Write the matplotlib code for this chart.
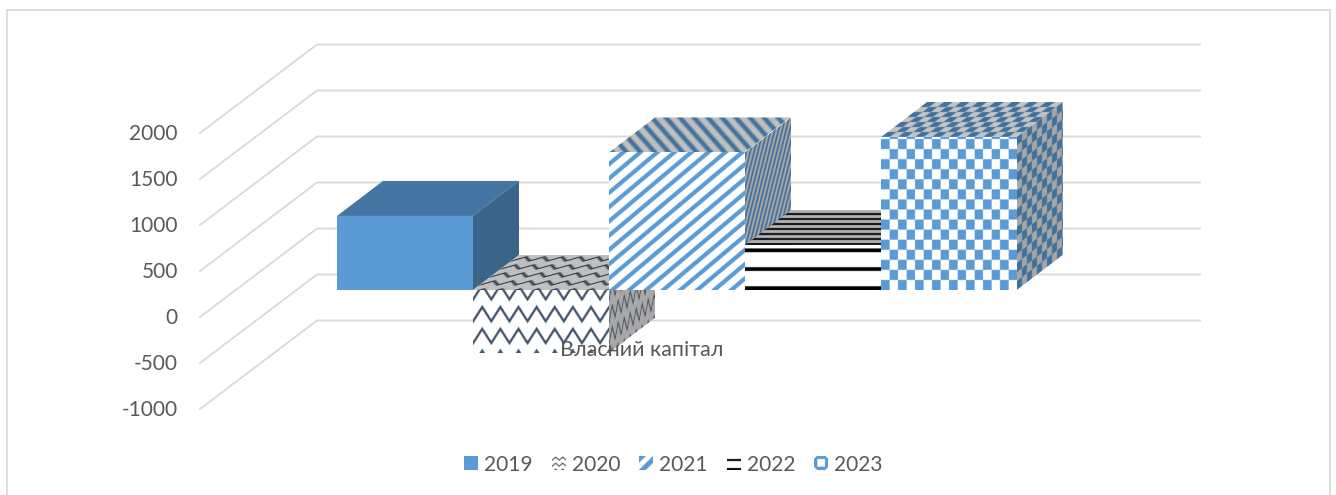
import numpy as np
import matplotlib
matplotlib.use('Agg')
import matplotlib.pyplot as plt
from matplotlib.colors import to_rgb
from matplotlib.lines import Line2D
from matplotlib.patches import Polygon
from matplotlib.transforms import Affine2D

plt.rcParams['font.family'] = ['Lato', 'Open Sans', 'DejaVu Sans']

years = ['2019', '2020', '2021', '2022', '2023']
values = [805, -690, 1495, 490, 1665]
y_ticks = [-1000, -500, 0, 500, 1000, 1500, 2000]
category = 'Власний капітал'

TEXT = '#595959'
GRID = '#d9d9d9'
BLUE = '#5b9bd5'
SLATE = '#44546a'

PX_X = 136.0              # pixels per category slot
PX_Y = 46.0 / 500.0       # pixels per value unit
DX = 46 / PX_X            # bar depth in data units
DY = 35 / PX_Y
TEXT_NUDGE = 1.5 / PX_Y   # lato sits a bit high with va=center

fig = plt.figure(figsize=(13.36, 4.95), dpi=100)
ax = fig.add_axes([0, 0, 1, 1])
ax.axis('off')
xlim = (-337 / PX_X, (1336 - 337) / PX_X)
ylim = ((290 - 495) / PX_Y, 290 / PX_Y)


def stripes(u, v, a, b, period, width):
    return np.mod(u * a + v * b, period) < width


def zigzag(u, v, pu, pv, amp, thick):
    tri = np.abs(np.mod(u, pu) / pu * 2 - 1) * amp
    return np.mod(v + tri, pv) < thick


def checker(u, v, pu, pv):
    return (np.floor(u / pu) + np.floor(v / pv)) % 2 == 0


def hlines(u, v, period, thick):
    return np.mod(v, period) < thick


def ring(u, v, size, gap):
    # blue outline with white middle and notched corners, for the 2023 key
    du = np.abs(u - size / 2)
    dv = np.abs(v - size / 2)
    return (np.maximum(du, dv) >= gap) & (du + dv < size * 0.8)


# pattern per year: (mask function, args, fg, bg) for front, top, side
styles = {
    '2020': [(zigzag, (18, 21.5, 14, 4.2), SLATE, '#ffffff'),
             (zigzag, (18, 8, 4, 1.8), '#333d4c', '#c0c0c0'),
             (zigzag, (6, 21.5, 14, 3.6), '#333d4c', '#a8a8a8')],
    '2021': [(stripes, (1, -1.2, 17, 6.5), BLUE, '#ffffff'),
             (stripes, (1, 2.2, 14, 6), '#41719c', '#c0c0c0'),
             (stripes, (3.2, -1, 15, 7), '#41719c', '#a6a6a6')],
    '2022': [(hlines, (18.5, 3.6), '#000000', '#ffffff'),
             (hlines, (5, 1.8), '#0a0a0a', '#b4b4b4'),
             (hlines, (18.5, 3.6), '#000000', '#a6a6a6')],
    '2023': [(checker, (8.5, 10), BLUE, '#ffffff'),
             (checker, (8.5, 5), '#41719c', '#c4c4c4'),
             (checker, (5, 9), '#41719c', '#a6a6a6')],
}
key_styles = {
    '2020': (zigzag, (7, 6, 3, 1.4), SLATE, '#ffffff'),
    '2021': (stripes, (1, -1, 14, 7), BLUE, '#ffffff'),
    '2022': (hlines, (9, 2.0), '#000000', '#ffffff'),
    '2023': (ring, (14, 4), BLUE, '#ffffff'),
}


def face(origin, uvec, vvec, style, w_px, h_px, z):
    # draw one textured parallelogram, texture is built in pixel units
    fn, args, fg, bg = style
    w_px = max(int(abs(w_px)), 1)
    h_px = max(int(abs(h_px)), 1)
    vv, uu = np.mgrid[0:h_px * 3, 0:w_px * 3] / 3.0
    mask = fn(uu, vv, *args)
    rgba = np.ones(mask.shape + (4,))
    rgba[mask, :3] = to_rgb(fg)
    rgba[~mask, :3] = to_rgb(bg)
    tr = Affine2D.from_values(uvec[0], uvec[1], vvec[0], vvec[1], origin[0], origin[1])
    im = ax.imshow(rgba, extent=(0, 1, 0, 1), origin='lower', aspect='auto',
                   interpolation='bilinear', transform=tr + ax.transData, zorder=z)
    o = np.array(origin)
    u = np.array(uvec)
    w = np.array(vvec)
    im.set_clip_path(Polygon([o, o + u, o + u + w, o + w], closed=True, transform=ax.transData))


def solid(points, color, z):
    ax.add_patch(Polygon(points, closed=True, fc=color, ec='none', zorder=z))


# gridlines: front edge, then along the back wall
FRONT = (317 - 290) / PX_Y * -1
BACK = (290 - 228.5) / PX_Y
x_front = (200 - 337) / PX_X
x_back = (317 - 337) / PX_X
x_end = (1200 - 337) / PX_X
for v in y_ticks:
    ax.plot([x_front, x_back, x_end], [v + FRONT, v + BACK, v + BACK],
            color=GRID, lw=1.3, zorder=1, solid_joinstyle='miter')
    ax.text((178 - 337) / PX_X, v + FRONT - TEXT_NUDGE, str(v), ha='right', va='center',
            color=TEXT, fontsize=15, zorder=50)

# bars, left to right so later ones sit over earlier ones
z = 2
for i, (year, val) in enumerate(zip(years, values)):
    lo, hi = min(val, 0), max(val, 0)
    h_px = (hi - lo) * PX_Y
    if year == '2019':
        solid([(i, lo), (i + 1, lo), (i + 1, hi), (i, hi)], BLUE, z)
        solid([(i, hi), (i + 1, hi), (i + 1 + DX, hi + DY), (i + DX, hi + DY)], '#4575a2', z + 1)
        solid([(i + 1, lo), (i + 1 + DX, lo + DY), (i + 1 + DX, hi + DY), (i + 1, hi)], '#3a6488', z + 2)
    else:
        front, top, side = styles[year]
        face((i, lo), (1, 0), (0, hi - lo), front, PX_X, h_px, z)
        face((i, hi), (1, 0), (DX, DY), top, PX_X, 35, z + 1)
        face((i + 1, lo), (DX, DY), (0, hi - lo), side, 46, h_px, z + 2)
    z += 3

ax.text((642 - 337) / PX_X, (290 - 349.5) / PX_Y, category, ha='center', va='center',
        color=TEXT, fontsize=15.5, zorder=50)

# legend, built by hand because the keys are textured
key_x = [464, 552, 639, 727, 814]
for j, year in enumerate(years):
    x0 = (key_x[j] - 337) / PX_X
    y0 = (290 - 470) / PX_Y
    w = 14 / PX_X
    h = 14 / PX_Y
    if year == '2019':
        solid([(x0, y0), (x0 + w, y0), (x0 + w, y0 + h), (x0, y0 + h)], BLUE, 40)
    else:
        face((x0, y0), (w, 0), (0, h), key_styles[year], 14, 14, 40)
    ax.text((key_x[j] + 20 - 337) / PX_X, (290 - 464) / PX_Y - TEXT_NUDGE * 0.6, year,
            ha='left', va='center', color=TEXT, fontsize=15, zorder=50)

ax.set_xlim(xlim)
ax.set_ylim(ylim)

# chart frame
for xs, ys in [([7, 7], [10, 495]), ([7, 1330], [10, 10]), ([1330, 1330], [10, 495])]:
    fig.add_artist(Line2D(np.array(xs) / 1336, 1 - np.array(ys) / 495, color=GRID, lw=1.2))

fig.savefig('out.png', dpi=100)
